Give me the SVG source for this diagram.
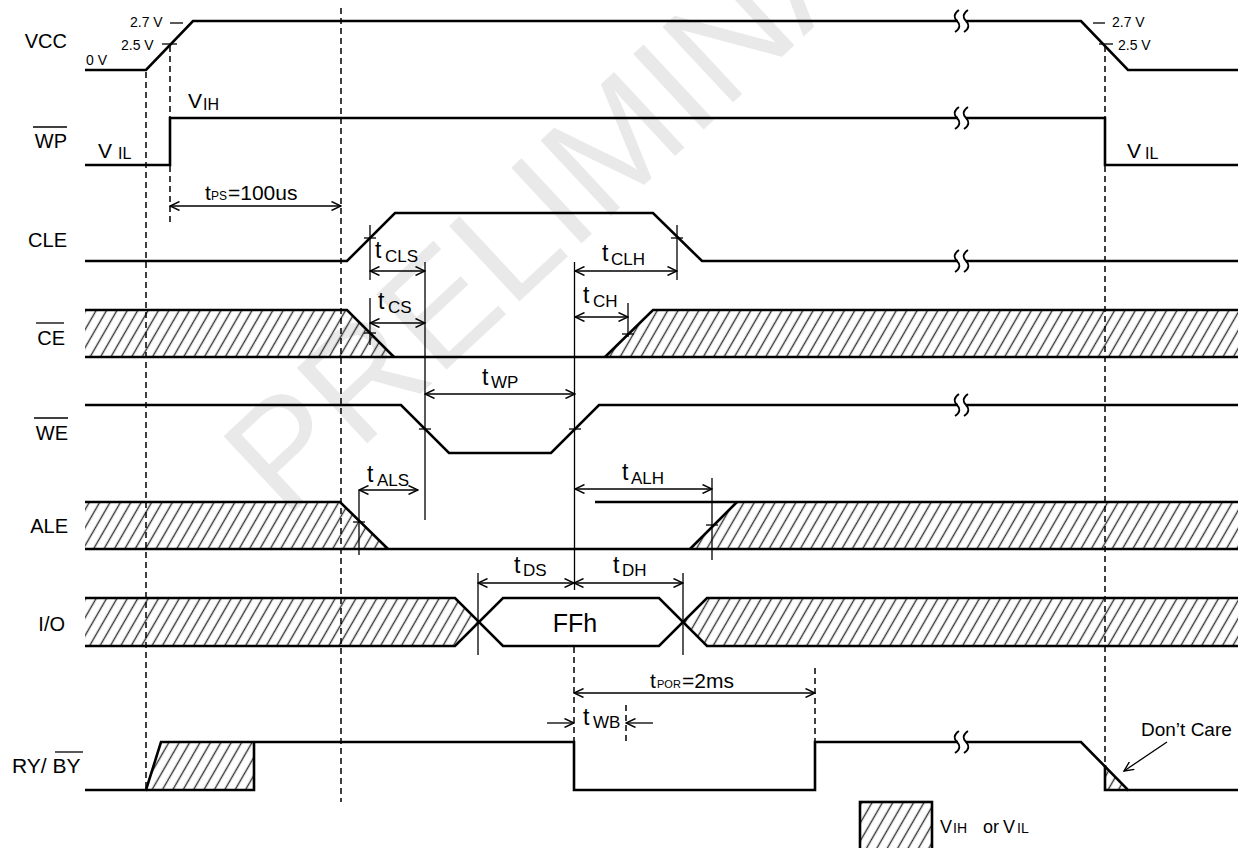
<svg xmlns="http://www.w3.org/2000/svg" width="1252" height="848" viewBox="0 0 1252 848">
<defs>
<pattern id="hatch" patternUnits="userSpaceOnUse" width="9" height="9" patternTransform="rotate(30)">
<line x1="4.5" y1="-1" x2="4.5" y2="10" stroke="#333" stroke-width="1.4"/>
</pattern>
<marker id="ah" viewBox="0 0 11 10" refX="10" refY="5" markerWidth="11" markerHeight="10" markerUnits="userSpaceOnUse" orient="auto-start-reverse">
<path d="M0.5,0.5 L10,5 L0.5,9.5" fill="none" stroke="#000" stroke-width="1.4"/>
</marker>
<g id="brk">
<rect x="-4" y="-2.5" width="8" height="5" fill="#fff"/>
<path d="M-3,-11 C-9,-7 -8,-3 -5,0 C-2,3 -1,7 -7,11 M6,-11 C0,-7 1,-3 4,0 C7,3 8,7 2,11" fill="none" stroke="#000" stroke-width="1.8"/>
</g>
</defs>
<style>
.sig{fill:none;stroke:#000;stroke-width:2.6;stroke-linejoin:miter}
.hat{fill:url(#hatch);stroke:none}
.thin{fill:none;stroke:#000;stroke-width:1.3}
.dash{fill:none;stroke:#000;stroke-width:1.5;stroke-dasharray:6 4}
.dim{fill:none;stroke:#000;stroke-width:1.3;marker-start:url(#ah);marker-end:url(#ah)}
.one{fill:none;stroke:#000;stroke-width:1.3;marker-end:url(#ah)}
text{font-family:"Liberation Sans",Arial,sans-serif;fill:#000}
.lbl{font-size:20px}
.tt{font-size:23px}
.ts{font-size:17px}
.v{font-size:14px}
.big{font-size:21px}
.sm{font-size:12px}
.wm{font-size:150px;fill:#e9e9e9}
</style>
<rect width="1252" height="848" fill="#fff"/>
<g id="watermark"><text class="wm" transform="translate(285,520) rotate(-43)">PRELIMINARY</text></g>

<g id="labels">
<text class="lbl" x="67" y="48" text-anchor="end">VCC</text>
<text class="lbl" x="67" y="148" text-anchor="end">WP</text>
<line class="thin" x1="33" y1="127" x2="67" y2="127"/>
<text class="lbl" x="67" y="247" text-anchor="end">CLE</text>
<text class="lbl" x="65" y="345" text-anchor="end">CE</text>
<line class="thin" x1="36" y1="323" x2="64" y2="323"/>
<text class="lbl" x="68" y="440" text-anchor="end">WE</text>
<line class="thin" x1="34" y1="418" x2="68" y2="418"/>
<text class="lbl" x="68" y="533" text-anchor="end">ALE</text>
<text class="lbl" x="65" y="631" text-anchor="end">I/O</text>
<text class="lbl" x="12" y="773" style="font-size:21px">RY/ BY</text>
<line class="thin" x1="55" y1="752" x2="83" y2="752"/>
</g>

<g id="sig-vcc">
<polyline class="sig" points="85,70 146,70 193,21 1081,21 1128,70 1238,70"/>
<use href="#brk" x="962" y="21"/>
<line class="thin" x1="170" y1="23" x2="183" y2="23"/>
<line class="thin" x1="162" y1="44" x2="177" y2="44"/>
<line class="thin" x1="1093" y1="23" x2="1105" y2="23"/>
<line class="thin" x1="1099" y1="44" x2="1113" y2="44"/>
<text class="v" x="130" y="27">2.7 V</text>
<text class="v" x="121" y="50">2.5 V</text>
<text class="v" x="86" y="65">0 V</text>
<text class="v" x="1112" y="27">2.7 V</text>
<text class="v" x="1118" y="50">2.5 V</text>
</g>

<g id="sig-wp">
<polyline class="sig" points="85,165 170,165 170,118 1105,118 1105,165 1238,165"/>
<use href="#brk" x="962" y="118"/>
<text x="188" y="108" class="big">V<tspan x="203" y="110" style="font-size:16px">IH</tspan></text>
<text x="98" y="158" class="big">V<tspan x="118" y="159" style="font-size:16px">IL</tspan></text>
<text x="1127" y="158" class="big">V<tspan x="1145" y="159" style="font-size:16px">IL</tspan></text>
</g>

<g id="sig-cle">
<polyline class="sig" points="85,261 347,261 395,213 653,213 702,261 1238,261"/>
<use href="#brk" x="962" y="261"/>
</g>

<g id="sig-ce">
<polygon class="hat" points="85,310 347,310 394,357 85,357"/>
<polygon class="hat" points="605,357 653,310 1238,310 1238,357"/>
<polyline class="sig" points="85,310 347,310 394,357"/>
<polyline class="sig" points="605,357 653,310 1238,310"/>
<line class="sig" x1="85" y1="357" x2="1238" y2="357"/>
</g>

<g id="sig-we">
<polyline class="sig" points="85,405 401,405 449,453 551,453 599,405 1238,405"/>
<use href="#brk" x="962" y="405"/>
</g>

<g id="sig-ale">
<polygon class="hat" points="85,502 340,502 388,549 85,549"/>
<polygon class="hat" points="690,549 737,502 1238,502 1238,549"/>
<polyline class="sig" points="85,502 340,502 388,549"/>
<polyline class="sig" points="690,549 737,502"/>
<line class="sig" x1="595" y1="502" x2="1238" y2="502"/>
<line class="sig" x1="85" y1="549" x2="1238" y2="549"/>
</g>

<g id="sig-io">
<polygon class="hat" points="85,598 455,598 478,622 455,646 85,646"/>
<polygon class="hat" points="683,622 707,598 1238,598 1238,646 707,646"/>
<polyline class="sig" points="85,598 455,598 503,646 659,646 707,598 1238,598"/>
<polyline class="sig" points="85,646 455,646 503,598 659,598 707,646 1238,646"/>
<text x="575" y="632" text-anchor="middle" style="font-size:25px">FFh</text>
</g>

<g id="sig-rybg">
<polygon class="hat" points="146,790 161,742 254,742 254,790"/>
<polygon class="hat" points="1105,766 1105,790 1128,790"/>
<polyline class="sig" points="85,790 146,790 161,742 574,742 574,790 815,790 815,742 1081,742 1128,790 1238,790"/>
<polyline class="sig" points="146,790 254,790 254,742"/>
<polyline class="sig" points="1105,765 1105,790 1128,790"/>
<use href="#brk" x="962" y="742"/>
<text x="1141" y="736" style="font-size:19px">Don’t Care</text>
</g>

<g id="legend">
<rect x="860" y="802" width="72" height="60" fill="url(#hatch)" stroke="#000" stroke-width="2.6"/>
<text x="940" y="833" style="font-size:18px">V<tspan x="953" style="font-size:14px">IH</tspan><tspan x="983">or</tspan><tspan x="1003">V</tspan><tspan x="1017" style="font-size:14px">IL</tspan></text>
</g>

<g id="connectors">
<line class="dash" x1="146" y1="72" x2="146" y2="790"/>
<line class="dash" x1="170" y1="46" x2="170" y2="222"/>
<line class="dash" x1="341" y1="8" x2="341" y2="802"/>
<line class="dash" x1="1105" y1="46" x2="1105" y2="765"/>
<line class="dash" x1="574" y1="647" x2="574" y2="742"/>
<line class="dash" x1="815" y1="668" x2="815" y2="742"/>
<line class="dash" x1="626" y1="705" x2="626" y2="742"/>

<line class="thin" x1="370" y1="225" x2="370" y2="280"/>
<line class="thin" x1="370" y1="298" x2="370" y2="345"/>
<line class="thin" x1="425" y1="262" x2="425" y2="520"/>
<line class="thin" x1="574.5" y1="262" x2="574.5" y2="590"/>
<line class="thin" x1="677" y1="225" x2="677" y2="280"/>
<line class="thin" x1="628" y1="303" x2="628" y2="337"/>
<line class="thin" x1="359" y1="490" x2="359" y2="555"/>
<line class="thin" x1="712" y1="478" x2="712" y2="560"/>
<line class="thin" x1="478" y1="573" x2="478" y2="655"/>
<line class="thin" x1="683" y1="573" x2="683" y2="655"/>

<line class="thin" x1="364" y1="238" x2="376" y2="238"/>
<line class="thin" x1="671" y1="238" x2="683" y2="238"/>
<line class="thin" x1="364" y1="333" x2="376" y2="333"/>
<line class="thin" x1="622" y1="334" x2="634" y2="334"/>
<line class="thin" x1="419" y1="429" x2="431" y2="429"/>
<line class="thin" x1="569" y1="429" x2="581" y2="429"/>
<line class="thin" x1="353" y1="522" x2="365" y2="522"/>
<line class="thin" x1="706" y1="525" x2="718" y2="525"/>

<line class="dim" x1="170" y1="206" x2="341" y2="206"/>
<line class="dim" x1="370" y1="271" x2="425" y2="271"/>
<line class="dim" x1="370" y1="323" x2="425" y2="323"/>
<line class="dim" x1="575" y1="271" x2="677" y2="271"/>
<line class="dim" x1="575" y1="317" x2="628" y2="317"/>
<line class="dim" x1="425" y1="394" x2="575" y2="394"/>
<line class="dim" x1="359" y1="490" x2="418" y2="490"/>
<line class="dim" x1="575" y1="489" x2="712" y2="489"/>
<line class="dim" x1="478" y1="583" x2="574" y2="583"/>
<line class="dim" x1="574" y1="583" x2="683" y2="583"/>
<line class="dim" x1="574" y1="693" x2="815" y2="693"/>
<line class="one" x1="547" y1="723" x2="574" y2="723"/>
<line class="one" x1="653" y1="723" x2="626" y2="723"/>
<line class="one" x1="1167" y1="742" x2="1124" y2="771"/>
</g>

<g id="timing-labels">
<text x="205" y="200" class="big">t<tspan x="211" class="sm">PS</tspan><tspan x="228">=100us</tspan></text>
<text x="375" y="258" class="tt">t<tspan x="385" y="262" class="ts">CLS</tspan></text>
<text x="378" y="309" class="tt">t<tspan x="388" y="313" class="ts">CS</tspan></text>
<text x="602" y="261" class="tt">t<tspan x="611" y="265" class="ts">CLH</tspan></text>
<text x="583" y="303" class="tt">t<tspan x="593" y="307" class="ts">CH</tspan></text>
<text x="482" y="385" class="tt">t<tspan x="491" y="388" class="ts">WP</tspan></text>
<text x="367" y="482" class="tt">t<tspan x="377" y="486" class="ts">ALS</tspan></text>
<text x="622" y="480" class="tt">t<tspan x="631" y="484" class="ts">ALH</tspan></text>
<text x="514" y="573" class="tt">t<tspan x="523" y="576" class="ts">DS</tspan></text>
<text x="613" y="573" class="tt">t<tspan x="622" y="576" class="ts">DH</tspan></text>
<text x="650" y="688" class="big">t<tspan x="657" style="font-size:11px">POR</tspan><tspan x="682">=2ms</tspan></text>
<text x="583" y="725" class="tt">t<tspan x="593" y="728" class="ts">WB</tspan></text>
</g>
</svg>
